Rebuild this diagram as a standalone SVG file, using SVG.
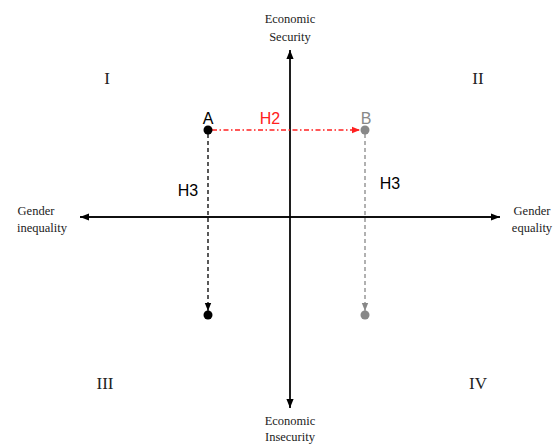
<svg xmlns="http://www.w3.org/2000/svg" width="555" height="446" viewBox="0 0 555 446">
<defs>
<marker id="ah" viewBox="0 0 10 10" refX="10" refY="5" markerWidth="9" markerHeight="9" markerUnits="userSpaceOnUse" orient="auto"><path d="M0,1 L10,5 L0,9 z" fill="#000"/></marker>
<marker id="ahr" viewBox="0 0 10 10" refX="10" refY="5" markerWidth="8" markerHeight="8" markerUnits="userSpaceOnUse" orient="auto"><path d="M0,1 L10,5 L0,9 z" fill="#ff2020"/></marker>
<marker id="ahg" viewBox="0 0 10 10" refX="10" refY="5" markerWidth="8" markerHeight="8" markerUnits="userSpaceOnUse" orient="auto"><path d="M0,1 L10,5 L0,9 z" fill="#888"/></marker>
<marker id="ahk" viewBox="0 0 10 10" refX="10" refY="5" markerWidth="8" markerHeight="8" markerUnits="userSpaceOnUse" orient="auto"><path d="M0,1 L10,5 L0,9 z" fill="#000"/></marker>
</defs>
<style>
.ax{font-family:"Liberation Serif",serif;font-size:12.5px;fill:#222;text-anchor:middle}
.rn{font-family:"Liberation Serif",serif;font-size:17px;fill:#222;text-anchor:middle}
.lb{font-family:"Liberation Sans",Arial,sans-serif;font-size:16px;text-anchor:middle}
</style>
<rect width="555" height="446" fill="#fff"/>
<g id="connectors">
<line x1="290" y1="408" x2="290" y2="50" stroke="#000" stroke-width="1.3" marker-end="url(#ah)"/>
<line x1="290" y1="50" x2="290" y2="408" stroke="#000" stroke-width="1.3" marker-end="url(#ah)"/>
<line x1="500" y1="217" x2="80" y2="217" stroke="#000" stroke-width="1.3" marker-end="url(#ah)"/>
<line x1="80" y1="217" x2="500" y2="217" stroke="#000" stroke-width="1.3" marker-end="url(#ah)"/>
<line x1="212" y1="130" x2="360" y2="130" stroke="#ff2020" stroke-width="1.3" stroke-dasharray="5,2.5,1.5,2.5" marker-end="url(#ahr)"/>
<line x1="208" y1="134" x2="208" y2="311" stroke="#000" stroke-width="1.3" stroke-dasharray="4,3" marker-end="url(#ahk)"/>
<line x1="365" y1="134" x2="365" y2="311" stroke="#888" stroke-width="1.3" stroke-dasharray="4,3" marker-end="url(#ahg)"/>
</g>
<g id="nodeA"><circle cx="208" cy="130" r="4.5" fill="#000"/><text class="lb" x="208" y="124" fill="#000">A</text></g>
<g id="nodeB"><circle cx="365" cy="130" r="4.5" fill="#888"/><text class="lb" x="366" y="124" fill="#888">B</text></g>
<g id="nodeA2"><circle cx="208" cy="315" r="4.5" fill="#000"/></g>
<g id="nodeB2"><circle cx="365" cy="315" r="4.5" fill="#888"/></g>
<g id="labels">
<text class="lb" x="270" y="124" fill="#ff2020">H2</text>
<text class="lb" x="188" y="196" fill="#000">H3</text>
<text class="lb" x="390" y="189" fill="#000">H3</text>
<text class="rn" x="107" y="84">I</text>
<text class="rn" x="478" y="84">II</text>
<text class="rn" x="105" y="389">III</text>
<text class="rn" x="478" y="389">IV</text>
<text class="ax" x="290" y="23">Economic</text>
<text class="ax" x="290" y="41">Security</text>
<text class="ax" x="290" y="425">Economic</text>
<text class="ax" x="290" y="441">Insecurity</text>
<text class="ax" x="36" y="215">Gender</text>
<text class="ax" x="42" y="232">inequality</text>
<text class="ax" x="532" y="215">Gender</text>
<text class="ax" x="532" y="232">equality</text>
</g>
</svg>
